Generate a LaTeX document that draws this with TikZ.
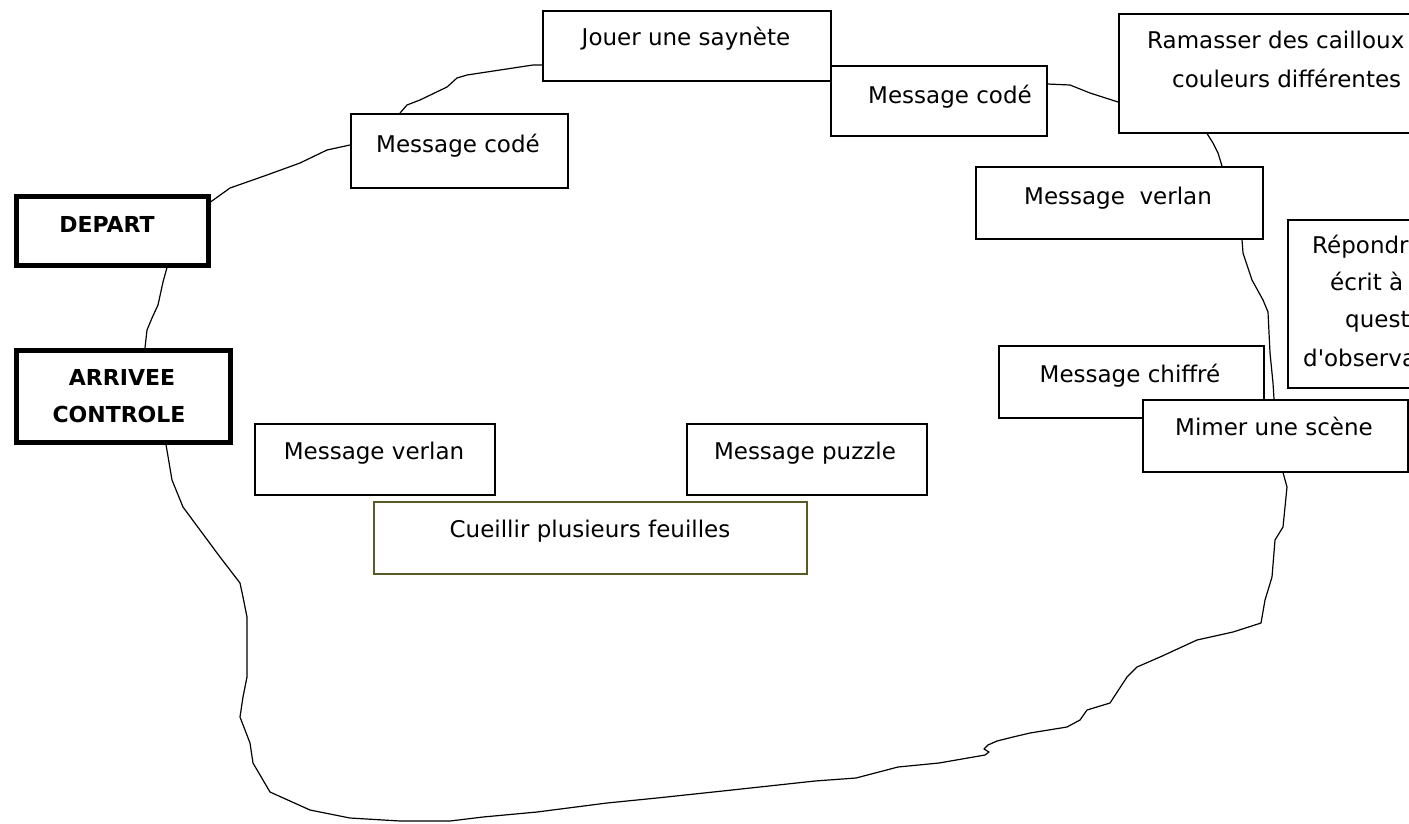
\documentclass[tikz,border=0pt]{standalone}
\usepackage{fontspec}
\setmainfont{DejaVu Sans}
\begin{document}
\begin{tikzpicture}[x=1pt,y=-1pt,
  box/.style={draw, line width=1.5pt, fill=white, inner sep=0pt, anchor=north west},
  thickbox/.style={box, line width=4.5pt},
  olivebox/.style={box, draw={rgb,255:red,90;green,90;blue,40}},
  lbl/.style={inner sep=0pt, font=\fontsize{23}{28}\selectfont, text height=17pt, text depth=3pt},
  blbl/.style={lbl, font=\fontsize{22}{28}\selectfont\bfseries},
  trail/.style={line width=1.2pt, line join=round}]
\path[use as bounding box, fill=white] (0,0) rectangle (1409,823);
\clip (0,0) rectangle (1409,823);

% boxes
\node[box, minimum width=288pt, minimum height=70pt] (jouer) at (542,10) {};
\node[box, minimum width=216pt, minimum height=70pt] (mcA) at (830,65) {};
\node[box, minimum width=356pt, minimum height=119pt] (ramasser) at (1118,13) {};
\node[box, minimum width=217pt, minimum height=74pt] (mcB) at (350,113) {};
\node[thickbox, minimum width=192pt, minimum height=69pt] (depart) at (14,194) {};
\node[thickbox, minimum width=214pt, minimum height=92pt] (arrivee) at (14,348) {};
\node[box, minimum width=287pt, minimum height=72pt] (mvA) at (975,166) {};
\node[box, minimum width=230pt, minimum height=168pt] (repondre) at (1287,219) {};
\node[box, minimum width=265pt, minimum height=72pt] (chiffre) at (998,345) {};
\node[box, minimum width=265pt, minimum height=72pt] (mimer) at (1142,399) {};
\node[box, minimum width=240pt, minimum height=71pt] (mvB) at (254,423) {};
\node[box, minimum width=240pt, minimum height=71pt] (puzzle) at (686,423) {};
\node[olivebox, minimum width=433pt, minimum height=72pt] (cueillir) at (373,501) {};

% texts
\node[lbl] (tjouer) at (686,38) {Jouer une saynète};
\node[lbl] (tmcA) at (950,96) {Message codé};
\node[lbl, anchor=west] (tram1) at (1147,41) {Ramasser des cailloux de};
\node[lbl, anchor=west] (tram2) at (1172,80) {couleurs différentes};
\node[lbl] (tmcB) at (458,145) {Message codé};
\node[blbl] (tdep) at (107,225) {DEPART};
\node[blbl] (tarr1) at (122,378) {ARRIVEE};
\node[blbl] (tarr2) at (119,415) {CONTROLE};
\node[lbl] (tmvA) at (1118,197) {Message\ \ verlan};
\node[lbl, anchor=west] (trep1) at (1312,246) {Répondre par};
\node[lbl, anchor=west] (trep2) at (1330,283) {écrit à des};
\node[lbl, anchor=west] (trep3) at (1345,320) {questions};
\node[lbl, anchor=west] (trep4) at (1303,359) {d\textquotesingle observation};
\node[lbl] (tchif) at (1130,375) {Message chiffré};
\node[lbl] (tmim) at (1274,428) {Mimer une scène};
\node[lbl] (tmvB) at (374,452) {Message verlan};
\node[lbl] (tpuz) at (805,452) {Message puzzle};
\node[lbl] (tcue) at (590,530) {Cueillir plusieurs feuilles};

% trail
\draw[trail] ([yshift=-8pt]depart.north east) -- (230,188) -- (267,175) -- (300,163) -- (327,150) -- ([yshift=-32pt]mcB.north west);
\draw[trail] ([xshift=50pt]mcB.north west) -- (407,105) -- (420,100) -- (447,87) -- (457,78) -- (467,75) -- (500,70) -- (533,65) -- ([yshift=-55pt]jouer.north west);
\draw[trail] ([yshift=-19pt]mcA.north east) -- (1070,85) -- (1090,93) -- ([yshift=-89pt]ramasser.north west);
\draw[trail] ([xshift=89pt]ramasser.south west) -- (1213,143) -- (1218,153) -- ([xshift=247pt]mvA.north west);
\draw[trail] ([xshift=267pt]mvA.south west) -- (1243,253) -- (1252,280) -- (1263,300) -- (1268,312) -- (1270,353) -- (1273,383) -- ([xshift=132pt]mimer.north west);
\draw[trail] ([xshift=141pt]mimer.south west) -- (1287,487) -- (1283,527) -- (1275,540) -- (1272,577) -- (1265,600) -- (1261,623) -- (1233,632) -- (1197,640) -- (1160,657) -- (1137,667) -- (1127,677) -- (1110,703) -- (1087,710) -- (1080,720) -- (1067,727) -- (1030,733) -- (1013,737) -- (997,741) -- (988,745) -- (984,749) -- (989,752) -- (985,755) -- (939,763) -- (898,767) -- (856,778) -- (815,781) -- (732,790) -- (657,798) -- (607,803) -- (537,812) -- (483,817) -- (450,821) -- (400,821) -- (350,818) -- (310,810) -- (270,792) -- (253,763) -- (250,743) -- (240,717) -- (243,697) -- (247,677) -- (247,617) -- (243,597) -- (240,583) -- (220,557) -- (200,530) -- (183,507) -- (172,480) -- ([xshift=152pt]arrivee.south west);
\draw[trail] ([xshift=153pt]depart.south west) -- (163,282) -- (158,305) -- (152,318) -- (147,330) -- ([xshift=131pt]arrivee.north west);
\end{tikzpicture}
\end{document}
